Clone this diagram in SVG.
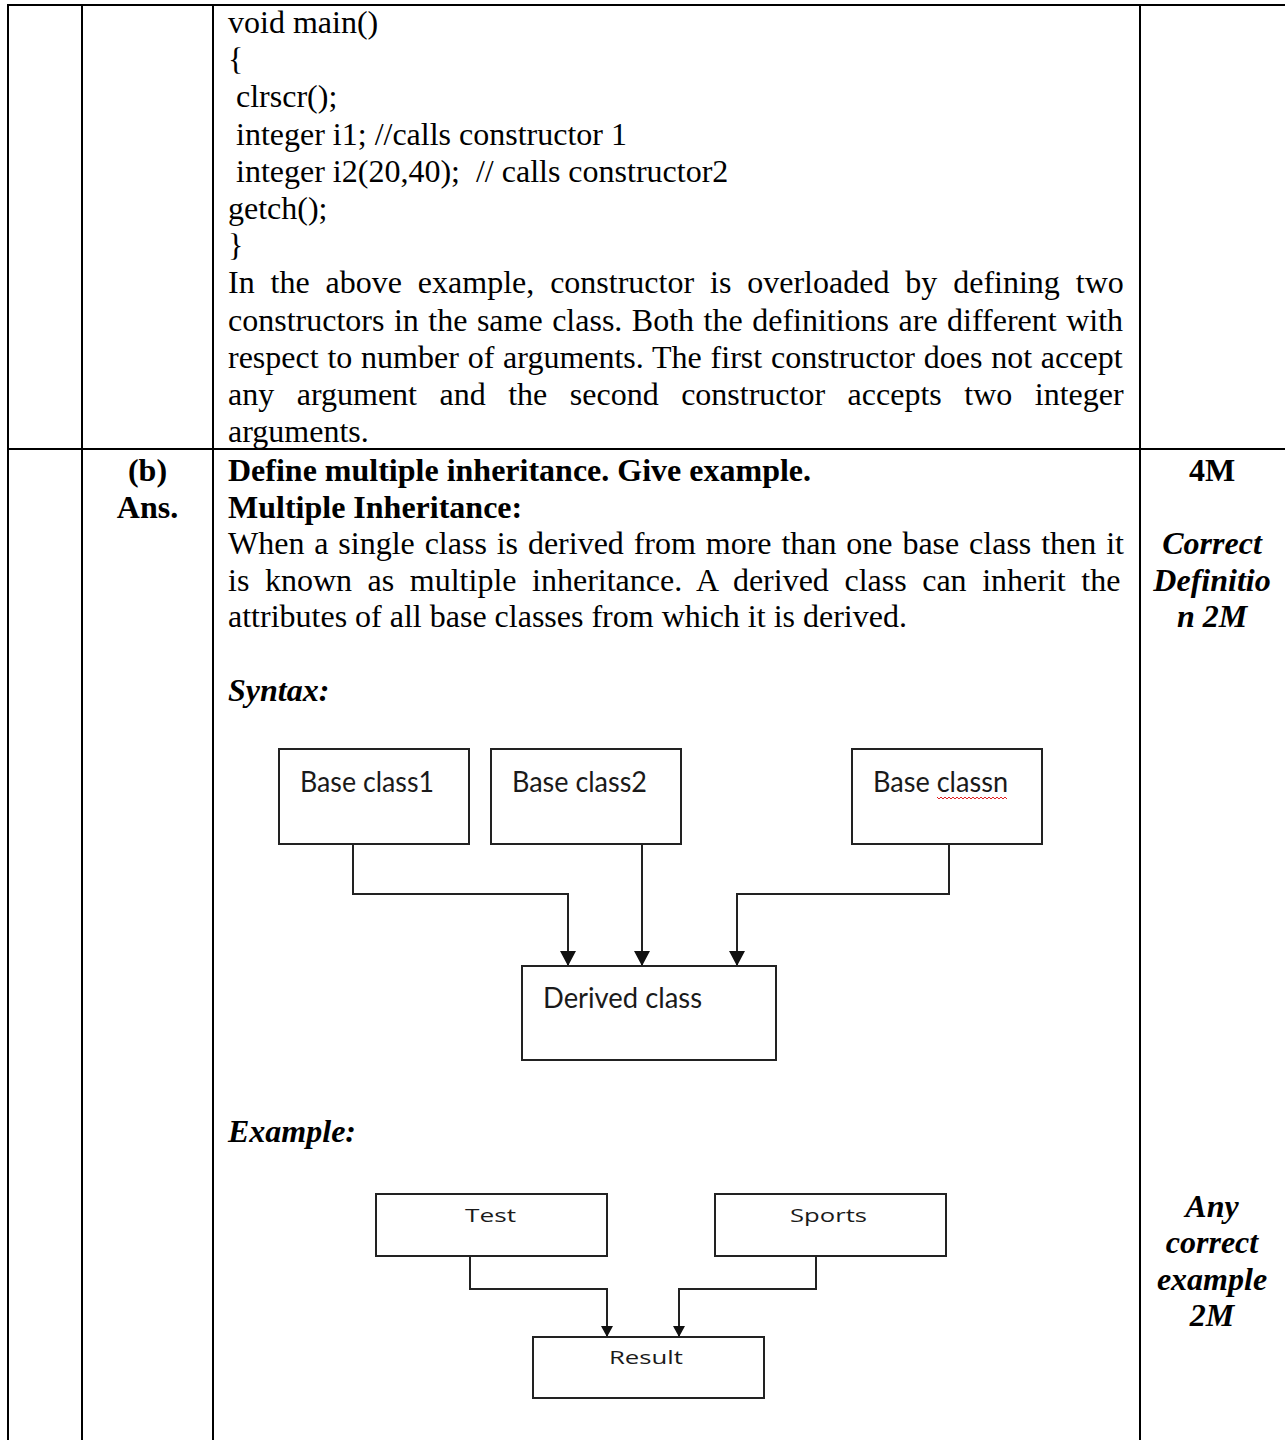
<svg xmlns="http://www.w3.org/2000/svg" width="1285" height="1440" viewBox="0 0 1285 1440">
<defs>
<style>
.t{font-family:"Liberation Serif","Times New Roman",serif;font-size:32px;fill:#000;white-space:pre}
.b{font-weight:bold}
.bi{font-weight:bold;font-style:italic}
.c{text-anchor:middle}
.grid{stroke:#000;stroke-width:2;fill:none}
.box{fill:#fff;stroke:#222;stroke-width:2}
.lbl{font-family:Lato,"Open Sans",sans-serif;font-size:28px;fill:#1a1a1a}
.lbs{font-family:"Open Sans",Lato,sans-serif;font-size:18px;fill:#1a1a1a}
.con{fill:none;stroke:#222;stroke-width:2}
</style>
<marker id="ah" markerUnits="userSpaceOnUse" markerWidth="15" markerHeight="16" refX="15" refY="8" orient="auto"><path d="M0,0 L15,8 L0,16 z" fill="#111"/></marker>
<marker id="ahs" markerUnits="userSpaceOnUse" markerWidth="11" markerHeight="12" refX="11" refY="6" orient="auto"><path d="M0,0 L11,6 L0,12 z" fill="#111"/></marker>
</defs>
<rect width="1285" height="1440" fill="#fff"/>
<g id="table">
<path class="grid" d="M7,5 H1285 M8,5 V1440 M82,5 V1440 M213,5 V1440 M1140,5 V1440 M7,449 H1285"/>
</g>
<g id="text-top">
<text class="t" x="228" y="33">void main()</text>
<text class="t" x="228" y="70.2">{</text>
<text class="t" x="236" y="107.4">clrscr();</text>
<text class="t" x="236" y="144.6">integer i1; //calls constructor 1</text>
<text class="t" x="236" y="181.8">integer i2(20,40);  // calls constructor2</text>
<text class="t" x="228" y="219">getch();</text>
<text class="t" x="228" y="256.2">}</text>
<text class="t" x="228" y="293.4" style="word-spacing:7.9px">In the above example, constructor is overloaded by defining two</text>
<text class="t" x="228" y="330.6" style="word-spacing:1.5px">constructors in the same class. Both the definitions are different with</text>
<text class="t" x="228" y="367.8" style="word-spacing:0.8px">respect to number of arguments. The first constructor does not accept</text>
<text class="t" x="228" y="405" style="word-spacing:14.5px">any argument and the second constructor accepts two integer</text>
<text class="t" x="228" y="442">arguments.</text>
</g>
<g id="text-b">
<text class="t b c" x="147.5" y="481">(b)</text>
<text class="t b c" x="147.5" y="517.5">Ans.</text>
<text class="t b" x="228" y="481">Define multiple inheritance. Give example.</text>
<text class="t b" x="228" y="517.5">Multiple Inheritance:</text>
<text class="t" x="228" y="554" style="word-spacing:1.86px">When a single class is derived from more than one base class then it</text>
<text class="t" x="228" y="590.5" style="word-spacing:7.57px">is known as multiple inheritance. A derived class can inherit the</text>
<text class="t" x="228" y="627">attributes of all base classes from which it is derived.</text>
<text class="t bi" x="228" y="701">Syntax:</text>
<text class="t bi" x="228" y="1142">Example:</text>
<text class="t b c" x="1212" y="481">4M</text>
<text class="t bi c" x="1212" y="554">Correct</text>
<text class="t bi c" x="1212" y="590.5">Definitio</text>
<text class="t bi c" x="1212" y="627">n 2M</text>
<text class="t bi c" x="1212" y="1217">Any</text>
<text class="t bi c" x="1212" y="1253">correct</text>
<text class="t bi c" x="1212" y="1290">example</text>
<text class="t bi c" x="1212" y="1326">2M</text>
</g>
<g id="connectors">
<path class="con" d="M353,844 V894 H568 V966" marker-end="url(#ah)"/>
<path class="con" d="M642,844 V966" marker-end="url(#ah)"/>
<path class="con" d="M949,844 V894 H737 V966" marker-end="url(#ah)"/>
<path class="con" d="M470,1256 V1289 H607 V1337" marker-end="url(#ahs)"/>
<path class="con" d="M816,1256 V1289 H679 V1337" marker-end="url(#ahs)"/>
</g>
<g id="base1">
<rect class="box" x="279" y="749" width="190" height="95"/>
<text class="lbl" x="300" y="792" textLength="134" lengthAdjust="spacingAndGlyphs">Base class1</text>
</g>
<g id="base2">
<rect class="box" x="491" y="749" width="190" height="95"/>
<text class="lbl" x="512" y="792" textLength="135" lengthAdjust="spacingAndGlyphs">Base class2</text>
</g>
<g id="basen">
<rect class="box" x="852" y="749" width="190" height="95"/>
<text class="lbl" x="873" y="792" textLength="135" lengthAdjust="spacingAndGlyphs">Base classn</text>
<path d="M937,797 l2,2 l2,-2 l2,2 l2,-2 l2,2 l2,-2 l2,2 l2,-2 l2,2 l2,-2 l2,2 l2,-2 l2,2 l2,-2 l2,2 l2,-2 l2,2 l2,-2 l2,2 l2,-2 l2,2 l2,-2 l2,2 l2,-2 l2,2 l2,-2 l2,2 l2,-2 l2,2 l2,-2 l2,2 l2,-2 l2,2 l2,-2 l2,2" fill="none" stroke="#e02020" stroke-width="1"/>
</g>
<g id="derived">
<rect class="box" x="522" y="966" width="254" height="94"/>
<text class="lbl" x="543" y="1008" textLength="159" lengthAdjust="spacingAndGlyphs">Derived class</text>
</g>
<g id="test">
<rect class="box" x="376" y="1194" width="231" height="62"/>
<text class="lbs" x="465" y="1222" textLength="51" lengthAdjust="spacingAndGlyphs">Test</text>
</g>
<g id="sports">
<rect class="box" x="715" y="1194" width="231" height="62"/>
<text class="lbs" x="790" y="1222" textLength="77" lengthAdjust="spacingAndGlyphs">Sports</text>
</g>
<g id="result">
<rect class="box" x="533" y="1337" width="231" height="61"/>
<text class="lbs" x="609" y="1364" textLength="74" lengthAdjust="spacingAndGlyphs">Result</text>
</g>
</svg>
